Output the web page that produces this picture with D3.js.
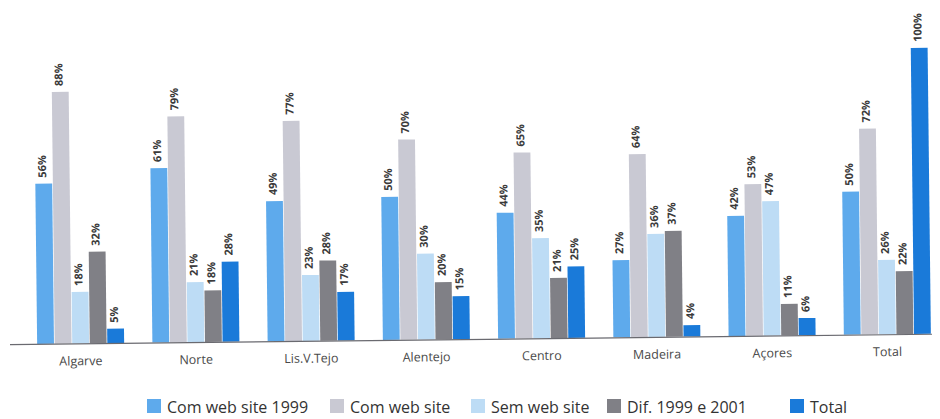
<!DOCTYPE html>
<html>
<head>
<meta charset="utf-8">
<script src="https://cdn.jsdelivr.net/npm/d3@7"></script>
<style>
  html, body { margin: 0; padding: 0; background: #ffffff; }
  svg { display: block; }
</style>
</head>
<body>
<svg id="chart" width="940" height="419"></svg>
<script>
// Regions and series
const regions = ["Algarve", "Norte", "Lis.V.Tejo", "Alentejo", "Centro", "Madeira", "Açores", "Total"];
const seriesNames = ["Com web site 1999", "Com web site", "Sem web site", "Dif. 1999 e 2001", "Total"];
const comWebSite1999 = [56, 61, 49, 50, 44, 27, 42, 50];
const comWebSite     = [88, 79, 77, 70, 65, 64, 53, 72];
const semWebSite     = [18, 21, 23, 30, 35, 36, 47, 26];
const dif1999e2001   = [32, 18, 28, 20, 21, 37, 11, 22];
const totalShare     = [5, 28, 17, 15, 25, 4, 6, 100];
const seriesValues = [comWebSite1999, comWebSite, semWebSite, dif1999e2001, totalShare];
const colors = ["#5eaaec", "#c9c9d3", "#bddcf5", "#808086", "#1a7ad9"];

const svg = d3.select("#chart");
const baseY = 339;

// slight tilt of the printed page
const g = svg.append("g").attr("transform", `rotate(-0.65, 470, ${baseY})`);

const x0 = d3.scaleBand().domain(regions).range([23, 945]).paddingInner(0.245).paddingOuter(0.1225);
const x1 = d3.scaleBand().domain(d3.range(seriesNames.length)).range([0, x0.bandwidth()]).paddingInner(0.04);
const y = d3.scaleLinear().domain([0, 100]).range([baseY, baseY - 286]);

const rows = regions.map((r, i) => ({ region: r, vals: seriesValues.map(s => s[i]) }));

const grp = g.selectAll("g.region").data(rows).join("g")
  .attr("class", "region")
  .attr("transform", d => `translate(${x0(d.region)},0)`);

grp.selectAll("rect").data(d => d.vals).join("rect")
  .attr("x", (d, j) => x1(j))
  .attr("width", x1.bandwidth())
  .attr("y", d => y(d))
  .attr("height", d => y(0) - y(d))
  .attr("fill", (d, j) => colors[j]);

grp.selectAll("text.val").data(d => d.vals).join("text")
  .attr("class", "val")
  .attr("transform", (d, j) => `translate(${x1(j) + x1.bandwidth() / 2 + 2.5},${y(d) - 6}) rotate(-90)`)
  .attr("font-family", "'Open Sans', sans-serif")
  .attr("font-size", 11)
  .attr("font-weight", 700)
  .attr("fill", "#3a3a3a")
  .text(d => d + "%");

// baseline
g.append("line")
  .attr("x1", 10).attr("x2", 932)
  .attr("y1", baseY + 0.5).attr("y2", baseY + 0.5)
  .attr("stroke", "#6a6a70").attr("stroke-width", 1.2);

// category axis
const xAxis = d3.axisBottom(x0).tickSize(0).tickPadding(12);
const ax = g.append("g").attr("transform", `translate(0,${baseY + 1})`).call(xAxis);
ax.select(".domain").remove();
ax.selectAll("text")
  .attr("font-family", "'Open Sans', sans-serif")
  .attr("font-size", 12.5)
  .attr("fill", "#4a4a4a");

// legend
const legendX = [147, 330, 471, 607, 790];
const leg = svg.append("g").attr("transform", "translate(0,399)");
const li = leg.selectAll("g").data(seriesNames).join("g")
  .attr("transform", (d, i) => `translate(${legendX[i]},0)`);
li.append("rect").attr("width", 14).attr("height", 14).attr("y", 0).attr("fill", (d, i) => colors[i]);
li.append("text")
  .attr("x", 20).attr("y", 13.5)
  .attr("font-family", "'Open Sans', sans-serif")
  .attr("font-size", 16)
  .attr("fill", "#333")
  .text(d => d);
</script>
</body>
</html>
